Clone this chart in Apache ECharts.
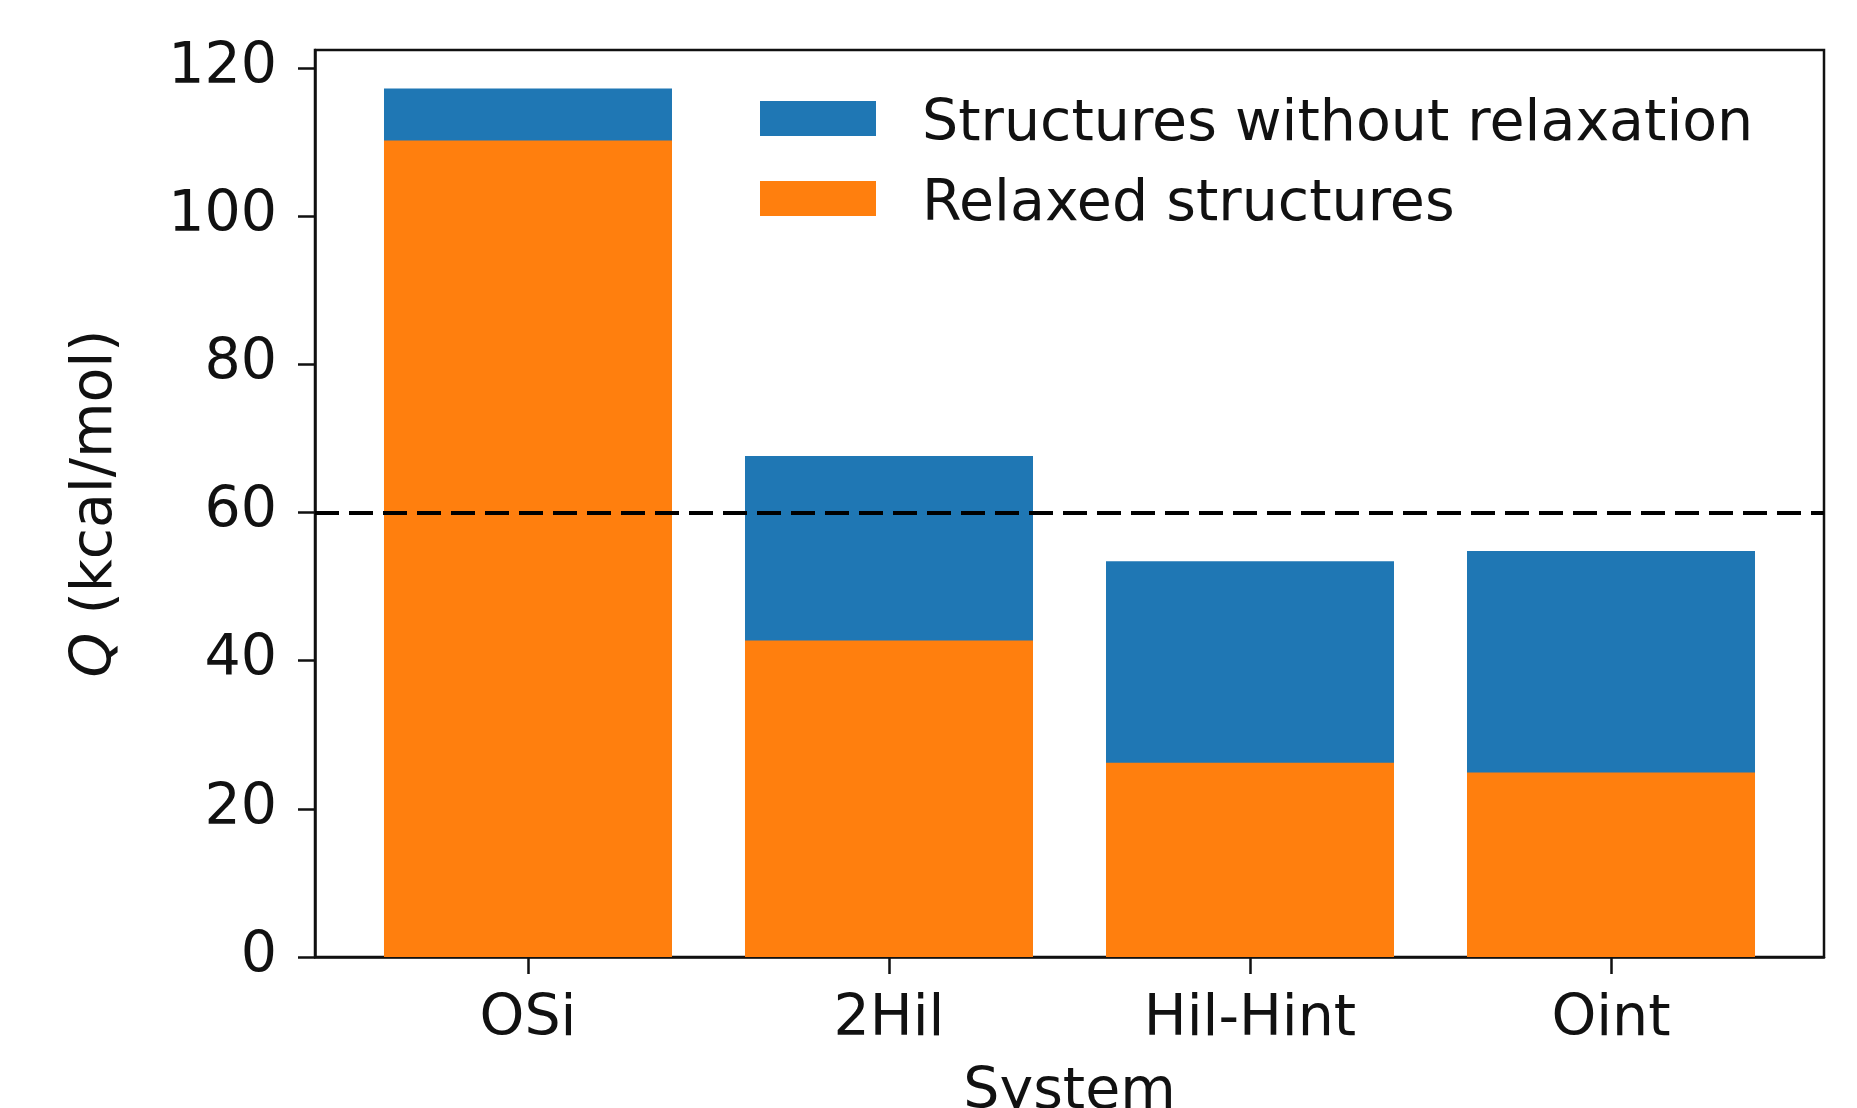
<!DOCTYPE html>
<html>
<head>
<meta charset="utf-8">
<title>Q per system</title>
<script src="https://cdn.jsdelivr.net/npm/echarts@6/dist/echarts.min.js"></script>
<style>
	html, body { margin: 0; padding: 0; background: #fff; }
	#chart { width: 1857px; height: 1108px; }
</style>
</head>
<body>
<div id="chart"></div>
<script>
	// data
	var categories = ['OSi', '2Hil', 'Hil-Hint', 'Oint'];
	var unrelaxed = [117.2, 67.6, 53.4, 54.8];   // Structures without relaxation
	var relaxed = [110.2, 42.7, 26.2, 24.9];     // Relaxed structures
	var yTicks = [0, 20, 40, 60, 80, 100, 120];
	var refLine = 60;

	var FONT = 'DejaVu Sans';
	var FS = 57;

	function toPoints(arr) {
		return arr.map(function(v, i) { return [i, v]; });
	}

	var chart = echarts.init(document.getElementById('chart'), null, {renderer: 'canvas'});
	var option = {
		animation: false,
		backgroundColor: '#fff',
		textStyle: {fontFamily: FONT},
		grid: {
			left: 315,
			right: 33,
			top: 50,
			bottom: 151,
			containLabel: false,
			outerBoundsMode: 'none',
			show: true,
			borderColor: '#111',
			borderWidth: 2.5,
			backgroundColor: 'transparent'
		},
		legend: {
			orient: 'vertical',
			left: 755,
			top: 92,
			// patch sits a bit above the text, as in the matplotlib legend
			icon: 'path://M0,0H116V35H0Z M0,49L116,49',
			itemWidth: 116,
			itemHeight: 49,
			itemGap: 23,
			textStyle: {
				fontFamily: FONT,
				fontSize: FS,
				color: '#111',
				padding: [0, 0, 0, 41]
			},
			data: ['Structures without relaxation', 'Relaxed structures']
		},
		xAxis: {
			type: 'value',
			min: -0.59,
			max: 3.59,
			name: 'System',
			nameLocation: 'middle',
			nameGap: 108,
			nameTextStyle: {fontFamily: FONT, fontSize: FS, color: '#111'},
			axisLine: {show: true, onZero: false, lineStyle: {color: '#111', width: 2.5}},
			axisTick: {
				show: true,
				length: 17,
				lineStyle: {color: '#111', width: 2.5},
				customValues: [0, 1, 2, 3]
			},
			axisLabel: {
				fontFamily: FONT,
				fontSize: FS,
				color: '#111',
				margin: 35,
				customValues: [0, 1, 2, 3],
				formatter: function(v) { return categories[Math.round(v)]; }
			},
			splitLine: {show: false}
		},
		yAxis: {
			type: 'value',
			min: 0,
			max: 122.4,
			name: '{i|Q} (kcal/mol)',
			nameLocation: 'middle',
			nameGap: 190,
			nameTextStyle: {
				fontFamily: FONT,
				fontSize: FS,
				color: '#111',
				rich: {
					i: {fontFamily: FONT, fontSize: FS, fontStyle: 'italic', color: '#111'}
				}
			},
			axisLine: {show: true, onZero: false, lineStyle: {color: '#111', width: 2.5}},
			axisTick: {
				show: true,
				length: 17,
				lineStyle: {color: '#111', width: 2.5},
				customValues: yTicks
			},
			axisLabel: {
				fontFamily: FONT,
				fontSize: FS,
				color: '#111',
				margin: 38,
				customValues: yTicks
			},
			splitLine: {show: false}
		},
		series: [
			{
				name: 'Structures without relaxation',
				type: 'bar',
				barWidth: 288,
				barGap: '-100%',
				itemStyle: {color: '#1f77b4'},
				data: toPoints(unrelaxed)
			},
			{
				name: 'Relaxed structures',
				type: 'bar',
				barWidth: 288,
				barGap: '-100%',
				itemStyle: {color: '#ff7f0e'},
				data: toPoints(relaxed),
				markLine: {
					silent: true,
					symbol: ['none', 'none'],
					label: {show: false},
					lineStyle: {color: '#000', width: 4, type: [24, 10]},
					data: [{yAxis: refLine}]
				}
			}
		]
	};
	chart.setOption(option);
</script>
</body>
</html>
